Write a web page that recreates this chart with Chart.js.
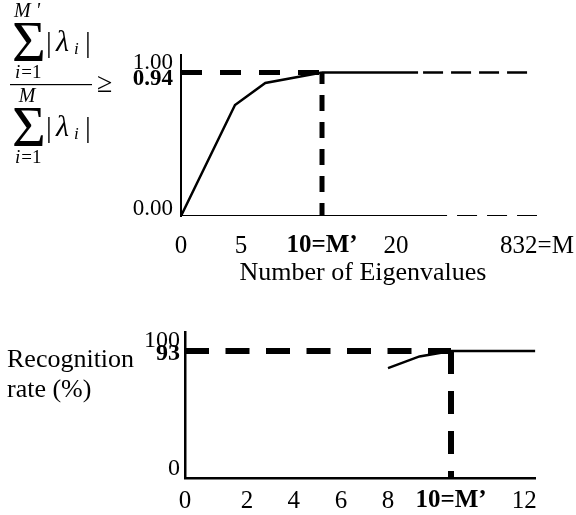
<!DOCTYPE html>
<html>
<head>
<meta charset="utf-8">
<script src="https://cdn.jsdelivr.net/npm/chart.js@4.4.1/dist/chart.umd.min.js"></script>
<style>
	html, body { margin: 0; padding: 0; background: #fff; }
	#wrap { position: relative; width: 576px; height: 515px; }
	canvas { position: absolute; left: 0; display: block; }
	#canvasEigen { top: 0; }
	#canvasRecog { top: 290px; }
</style>
</head>
<body>
<div id="wrap">
	<canvas id="canvasEigen" width="576" height="290"></canvas>
	<canvas id="canvasRecog" width="576" height="225"></canvas>
</div>
<script>
/* ---- top chart : cumulative eigenvalue ratio ---- */
var eigCount = [0, 4.5, 6.5, 10];
var eigRatio = [0, 0.727, 0.871, 0.94];
var eigThreshold = 0.94;
var eigMPrime = 10;
var eigTotal = 832;
var eigTailSolid = 147;   // solid part of the 0.94 line after M'
var eigTailDash = 780;    // dashed part ends here
var eigAxisSolid = 314;   // x axis turns dashed after this
var eigTicks = [0, 5, 10, 20, 832];
var eigTickLabels = ['0', '5', '10=M\u2019', '20', '832=M'];
var ratioTicks = [0, 0.94, 1.00];
var ratioTickLabels = ['0.00', '0.94', '1.00'];

/* ---- bottom chart : recognition rate ---- */
var recCount = [8, 9, 10];
var recRate = [80.5, 89, 93];
var recThreshold = 93;
var recMPrime = 10;
var recEnd = 12.3;
var recTicks = [0, 2, 4, 6, 8, 10, 12];
var recTickLabels = ['0', '2', '4', '6', '8', '10=M\u2019', '12'];
var rateTicks = [0, 93, 100];
var rateTickLabels = ['0', '93', '100'];

/* layout: where each x value sits along the (compressed) axis, 0..1 */
var eigKnots = [[0, 0], [5, 0.1648], [10, 0.3874], [20, 0.5907], [832, 0.978]];
var recKnots = [[0, 0], [2, 0.177], [4, 0.311], [6, 0.446], [8, 0.580], [10, 0.760], [12, 0.969]];
/* label nudges in px (+ = down) for the y ticks */
var ratioNudge = [-7, 7, 0];
var rateNudge = [-9, 3, -1];

var FONT = '"Liberation Serif", "Times New Roman", serif';
Chart.defaults.font.family = FONT;
Chart.defaults.color = '#000';

/* piecewise linear scale, the figure's x axes are not to scale */
class PiecewiseScale extends Chart.LinearScale {
	getPixelForValue(value) {
		var k = this.options.knots;
		if (value === null || isNaN(value)) return NaN;
		var i = 1;
		while (i < k.length - 1 && value > k[i][0]) i++;
		var a = k[i - 1], b = k[i];
		var f = a[1] + (value - a[0]) / (b[0] - a[0]) * (b[1] - a[1]);
		return this.getPixelForDecimal(f);
	}
}
PiecewiseScale.id = 'piecewise';
PiecewiseScale.defaults = {};
Chart.register(PiecewiseScale);

function seg(xs, ys, width, dash, offset) {
	return {
		data: xs.map(function(x, i) { return {x: x, y: ys[i]}; }),
		borderColor: '#000',
		borderWidth: width,
		borderDash: dash || [],
		borderDashOffset: offset || 0,
		pointRadius: 0,
		fill: false,
		tension: 0
	};
}

function xAxis(values, labels, knots, boldValue, height, padding, border) {
	return {
		type: 'piecewise',
		knots: knots,
		position: 'bottom',
		grid: { display: false, drawTicks: false, tickLength: 0 },
		border: border,
		afterBuildTicks: function(s) { s.ticks = values.map(function(v) { return {value: v}; }); },
		afterFit: function(s) { s.height = height; s.paddingLeft = 0; s.paddingRight = 0; },
		ticks: {
			autoSkip: false,
			maxRotation: 0,
			padding: padding,
			callback: function(v, i) { return labels[i]; },
			font: function(ctx) {
				return { size: 25, lineHeight: 1.2,
					weight: ctx.tick && ctx.tick.value === boldValue ? 'bold' : 'normal' };
			}
		}
	};
}

function yAxis(values, labels, nudge, max, boldValue, width, size, padding, borderWidth) {
	return {
		min: 0,
		max: max,
		grid: { display: false, drawTicks: false, tickLength: 0 },
		border: { display: true, color: '#000', width: borderWidth },
		afterBuildTicks: function(s) { s.ticks = values.map(function(v) { return {value: v}; }); },
		afterFit: function(s) { s.width = width; s.paddingTop = 0; s.paddingBottom = 0; },
		ticks: {
			autoSkip: false,
			padding: padding,
			callback: function(v, i) {
				var n = nudge[i];
				if (n < 0) return [labels[i], ''];
				if (n > 0) return ['', labels[i]];
				return labels[i];
			},
			font: function(ctx) {
				var n = ctx.index !== undefined && nudge[ctx.index] ? nudge[ctx.index] : 0;
				return { size: size, lineHeight: n ? (2 * Math.abs(n)) + 'px' : 1.2,
					weight: ctx.tick && ctx.tick.value === boldValue ? 'bold' : 'normal' };
			}
		}
	};
}

/* the ratio formula at the top left */
var formulaPlugin = {
	id: 'formula',
	afterDraw: function(chart) {
		var c = chart.ctx;
		c.save();
		c.fillStyle = '#000';
		c.textBaseline = 'alphabetic';
		[0, 85].forEach(function(dy, k) {
			c.textAlign = 'center';
			c.font = 'italic 20px ' + FONT;
			c.fillText(k === 0 ? 'M \'' : 'M', 27, 17 + dy);
			c.textAlign = 'left';
			c.font = '58px ' + FONT;
			c.fillText('\u03A3', 12, 61 + dy);
			c.font = '29px ' + FONT;
			c.fillText('|', 46, 52 + dy);
			c.fillText('|', 85, 52 + dy);
			c.font = 'italic 30px ' + FONT;
			c.fillText('\u03BB', 56, 51 + dy);
			c.font = 'italic 17px ' + FONT;
			c.fillText('i', 74, 54 + dy);
			c.font = 'italic 19px ' + FONT;
			c.fillText('i', 15, 78 + dy);
			var w = c.measureText('i').width;
			c.font = '19px ' + FONT;
			c.fillText('=1', 15 + w + 1, 78 + dy);
		});
		c.fillRect(10, 84, 82, 1.2);
		c.font = '28px ' + FONT;
		c.fillText('\u2265', 97, 92);
		c.restore();
	}
};

var recogLabelPlugin = {
	id: 'recogLabel',
	afterDraw: function(chart) {
		var c = chart.ctx;
		c.save();
		c.fillStyle = '#000';
		c.font = '26px ' + FONT;
		c.textAlign = 'left';
		c.textBaseline = 'alphabetic';
		c.fillText('Recognition', 7, 77);
		c.fillText('rate (%)', 7, 107);
		c.restore();
	}
};

function drawEigen() {
	new Chart(document.getElementById('canvasEigen'), {
		type: 'line',
		data: {
			datasets: [
				seg(eigCount, eigRatio, 2.5),
				seg([0, eigMPrime], [eigThreshold, eigThreshold], 5, [21, 18]),
				seg([eigMPrime, eigMPrime], [0, eigThreshold], 5, [16, 11], 3),
				seg([eigMPrime, eigTailSolid], [eigThreshold, eigThreshold], 2.5),
				seg([eigTailSolid, eigTailDash], [eigThreshold, eigThreshold], 2.5, [20, 8], 23),
				seg([0, eigAxisSolid], [0, 0], 2),
				seg([eigAxisSolid, eigTotal], [0, 0], 2, [20, 10], 20)
			]
		},
		options: {
			responsive: false,
			animation: false,
			events: [],
			layout: { padding: { left: 0, top: 55, right: 31, bottom: 0 } },
			plugins: { legend: { display: false }, tooltip: { enabled: false } },
			scales: {
				x: Object.assign(xAxis(eigTicks, eigTickLabels, eigKnots, eigMPrime, 74, 15, { display: false }), {
					title: { display: true, text: 'Number of Eigenvalues', font: { size: 26 }, padding: { top: 0, bottom: 1 } }
				}),
				y: yAxis(ratioTicks, ratioTickLabels, ratioNudge, 1.0546, eigThreshold, 181, 23, 8, 2)
			}
		},
		plugins: [formulaPlugin]
	});
}

function drawRecog() {
	new Chart(document.getElementById('canvasRecog'), {
		type: 'line',
		data: {
			datasets: [
				seg(recCount, recRate, 2.5),
				seg([0, recMPrime], [recThreshold, recThreshold], 6, [24, 16.5]),
				seg([recMPrime, recMPrime], [recThreshold, 0], 6, [23, 17]),
				seg([recMPrime, recEnd], [recThreshold, recThreshold], 2.5)
			]
		},
		options: {
			responsive: false,
			animation: false,
			events: [],
			layout: { padding: { left: 0, top: 42, right: 41, bottom: 0 } },
			plugins: { legend: { display: false }, tooltip: { enabled: false } },
			scales: {
				x: xAxis(recTicks, recTickLabels, recKnots, recMPrime, 37, 8, { display: true, color: '#000', width: 2.5 }),
				y: yAxis(rateTicks, rateTickLabels, rateNudge, 106.9, recThreshold, 185, 24, 5, 2.5)
			}
		},
		plugins: [recogLabelPlugin]
	});
}

drawEigen();
drawRecog();
</script>
</body>
</html>
